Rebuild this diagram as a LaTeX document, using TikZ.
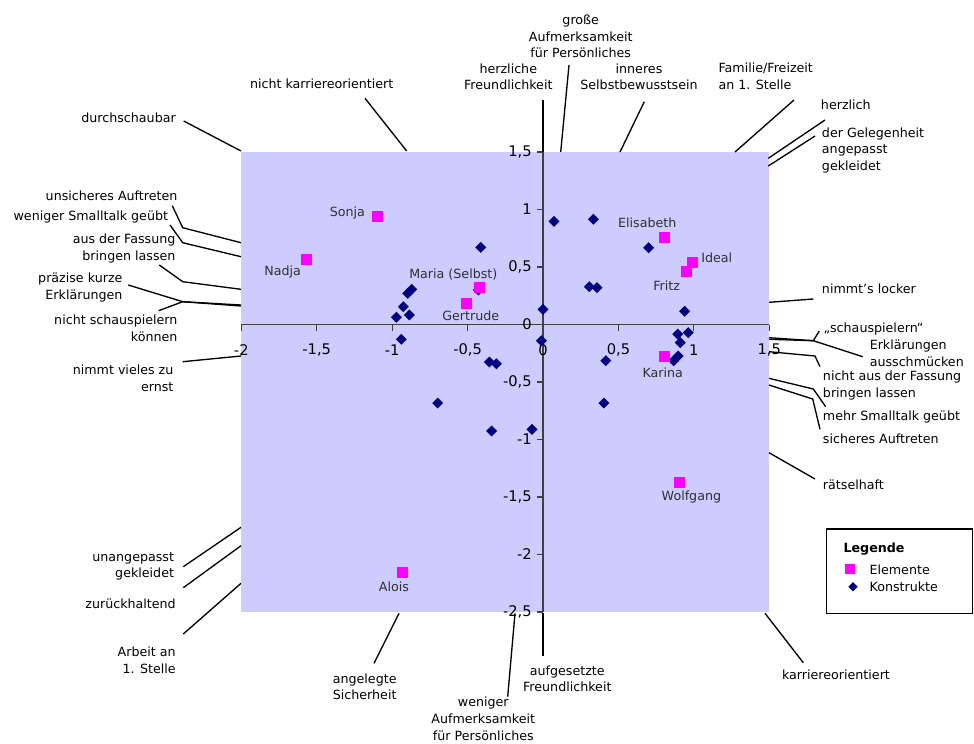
\documentclass[tikz,border=0pt]{standalone}
\usepackage{fontspec}
\setmainfont{DejaVu Sans}
\usetikzlibrary{shapes.geometric}

\definecolor{plotbg}{HTML}{CCCCFF}
\definecolor{elemcol}{HTML}{FF00FF}
\definecolor{konstcol}{HTML}{000080}
\definecolor{axiscol}{HTML}{404040}
\definecolor{ptlabel}{HTML}{303030}

\begin{document}
\begin{tikzpicture}[x=0.75pt,y=-0.75pt,
  lbl/.style={font=\fontsize{9.5}{12.5}\selectfont, inner sep=0pt, text=black},
  ptlbl/.style={font=\fontsize{9.5}{12.5}\selectfont, inner sep=0pt, text=ptlabel},
  ticklbl/.style={font=\fontsize{11}{13}\selectfont, inner sep=0pt, text=black},
  conn/.style={draw=black, line width=1pt},
  axisline/.style={draw=axiscol, line width=0.8pt},
  elem/.style={rectangle, fill=elemcol, inner sep=0pt, minimum size=8.25pt},
  konst/.style={diamond, fill=konstcol, inner sep=0pt, minimum width=8.4pt, minimum height=8.4pt}
]
\useasboundingbox (0,0) rectangle (974,743);
\fill[white] (0,0) rectangle (974,743);

% plot area
\fill[plotbg] (241,152) rectangle (769,612);

% data coordinates: origin at the axis crossing
\begin{scope}[shift={(543,324.5)}, x=113.145pt, y=86.25pt]
  \draw[axisline] (-2,0) -- (1.5,0);
  \draw[axisline] (0,-2.5) -- (0,1.5);
  \foreach \t/\s [count=\i] in {-2/-2, -1.5/{-1,5}, -1/-1, -0.5/{-0,5}, 0/0, 0.5/{0,5}, 1/1, 1.5/{1,5}} {
    \draw[axisline] (\t,0) -- ++(0pt,-4.5pt);
    \node[ticklbl, yshift=-19.1pt] (xt\i) at (\t,0) {\s};
  }
  \foreach \t/\s [count=\i] in {-2.5/{-2,5}, -2/-2, -1.5/{-1,5}, -1/-1, -0.5/{-0,5}, 0/0, 0.5/{0,5}, 1/1, 1.5/{1,5}} {
    \draw[axisline] (0,\t) -- ++(-4.5pt,0pt);
    \node[ticklbl, anchor=east, xshift=-8.25pt] (yt\i) at (0,\t) {\s};
  }

  % constructs
  \foreach \p [count=\i] in {
    (-0.413,0.671), (-0.429,0.300), (-0.870,0.306), (-0.897,0.271), (-0.926,0.155),
    (-0.886,0.083), (-0.972,0.063), (-0.939,-0.129), (-0.356,-0.326), (-0.309,-0.341),
    (0.073,0.897), (0.334,0.915), (0.700,0.668), (0.307,0.329), (0.358,0.320),
    (0.000,0.132), (0.939,0.115), (-0.011,-0.141), (0.893,-0.083), (0.963,-0.071),
    (0.910,-0.158), (0.895,-0.274), (0.866,-0.315), (0.416,-0.315),
    (-0.698,-0.683), (-0.340,-0.926), (-0.073,-0.911), (0.404,-0.683)}
    \node[konst] (k\i) at \p {};

  % elements
  \node[elem] (sonja) at (-1.096,0.935) {};
  \node[elem] (nadja) at (-1.571,0.567) {};
  \node[elem] (maria) at (-0.418,0.326) {};
  \node[elem] (gertrude) at (-0.506,0.187) {};
  \node[elem] (elisabeth) at (0.804,0.755) {};
  \node[elem] (ideal) at (0.992,0.537) {};
  \node[elem] (fritz) at (0.948,0.457) {};
  \node[elem] (karina) at (0.804,-0.274) {};
  \node[elem] (wolfgang) at (0.904,-1.372) {};
  \node[elem] (alois) at (-0.933,-2.155) {};
\end{scope}

% element labels
\node[ptlbl] (l-sonja) at (347.3,213.3) {Sonja};
\node[ptlbl] (l-nadja) at (282.7,271.7) {Nadja};
\node[ptlbl] (l-maria) at (453.3,275) {Maria (Selbst)};
\node[ptlbl] (l-gertrude) at (470.7,316) {Gertrude};
\node[ptlbl] (l-elisabeth) at (647.3,222.7) {Elisabeth};
\node[ptlbl] (l-ideal) at (716.7,257.7) {Ideal};
\node[ptlbl] (l-fritz) at (666.7,285.7) {Fritz};
\node[ptlbl] (l-karina) at (662.7,372.7) {Karina};
\node[ptlbl] (l-wolfgang) at (691.4,496.7) {Wolfgang};
\node[ptlbl] (l-alois) at (393.9,586.7) {Alois};

% ---- construct poles, left side
\node[lbl, anchor=east] (c1) at (176,117.3) {durchschaubar};
\path (183.7,121) coordinate (c1a) (241,151) coordinate (c1b);
\draw[conn] (c1a) -- (c1b);

\node[lbl, anchor=east] (c2) at (177.7,196) {unsicheres Auftreten};
\path (172.3,205.7) coordinate (c2a) (182.7,227.7) coordinate (c2m) (241,242.7) coordinate (c2b);
\draw[conn] (c2a) -- (c2m) -- (c2b);

\node[lbl, anchor=east] (c3) at (168.3,216.7) {weniger Smalltalk geübt};
\path (170,225) coordinate (c3a) (182.7,242.7) coordinate (c3m) (241,256.7) coordinate (c3b);
\draw[conn] (c3a) -- (c3m) -- (c3b);

\node[lbl, anchor=east, align=right] (c4) at (175.7,248.3) {aus der Fassung\\bringen lassen};
\path (159.3,265) coordinate (c4a) (182.7,281.7) coordinate (c4m) (241,289.3) coordinate (c4b);
\draw[conn] (c4a) -- (c4m) -- (c4b);

\node[lbl, anchor=east, align=right] (c5) at (122.7,287.7) {präzise kurze\\Erklärungen};
\path (128.3,285) coordinate (c5a) (182.7,301.7) coordinate (c5m) (241,305) coordinate (c5b);
\draw[conn] (c5a) -- (c5m) -- (c5b);

\node[lbl, anchor=east, align=right] (c6) at (177.7,328.3) {nicht schauspielern\\können};
\path (158.7,310.7) coordinate (c6a) (241,306) coordinate (c6b);
\draw[conn] (c6a) -- (c5m) -- (c6b);

\node[lbl, anchor=east, align=right] (c7) at (173.7,378.3) {nimmt vieles zu\\ernst};
\path (182.7,361.7) coordinate (c7a) (241,356) coordinate (c7b);
\draw[conn] (c7a) -- (c7b);

\node[lbl, anchor=east, align=right] (c8) at (174.3,566.3) {unangepasst\\gekleidet};
\path (183.3,566.7) coordinate (c8a) (241,527.3) coordinate (c8b);
\draw[conn] (c8a) -- (c8b);

\node[lbl, anchor=east] (c9) at (176,603.3) {zurückhaltend};
\path (183.3,587.7) coordinate (c9a) (241,545.7) coordinate (c9b);
\draw[conn] (c9a) -- (c9b);

\node[lbl, anchor=east, align=right] (c10) at (176,660.3) {Arbeit an\\1. Stelle};
\path (183.3,634) coordinate (c10a) (241,583.3) coordinate (c10b);
\draw[conn] (c10a) -- (c10b);

% ---- top
\node[lbl] (c11) at (321.7,83.3) {nicht karriereorientiert};
\path (365,98.3) coordinate (c11a) (406.7,151) coordinate (c11b);
\draw[conn] (c11a) -- (c11b);

\node[lbl, align=center] (c12) at (508.3,76.7) {herzliche\\Freundlichkeit};
\path (543,100) coordinate (c12a) (543,152) coordinate (c12b);
\draw[conn] (c12a) -- (c12b);

\node[lbl, align=center] (c13) at (580.7,36.3) {große\\Aufmerksamkeit\\für Persönliches};
\path (569,65) coordinate (c13a) (560.7,152) coordinate (c13b);
\draw[conn] (c13a) -- (c13b);

\node[lbl, align=center] (c14) at (639,76.7) {inneres\\Selbstbewusstsein};
\path (644.3,101.7) coordinate (c14a) (620,152) coordinate (c14b);
\draw[conn] (c14a) -- (c14b);

\node[lbl, anchor=west, align=left] (c15) at (718.3,76.3) {Familie/Freizeit\\an 1. Stelle};
\path (794,100) coordinate (c15a) (735,152) coordinate (c15b);
\draw[conn] (c15a) -- (c15b);

\node[lbl, anchor=west] (c16) at (820.7,105) {herzlich};
\path (825,120) coordinate (c16a) (768.3,158.3) coordinate (c16b);
\draw[conn] (c16a) -- (c16b);

\node[lbl, anchor=west, align=left] (c17) at (821.7,150.3) {der Gelegenheit\\angepasst\\gekleidet};
\path (815,136) coordinate (c17a) (768.3,166) coordinate (c17b);
\draw[conn] (c17a) -- (c17b);

% ---- right side
\node[lbl, anchor=west] (c18) at (821.7,288.3) {nimmt’s locker};
\path (813.3,299) coordinate (c18a) (769,302.3) coordinate (c18b);
\draw[conn] (c18a) -- (c18b);

\node[lbl, anchor=west] (c19) at (823.3,329.3) {„schauspielern“};
\path (819.3,331) coordinate (c19a) (813.3,340.7) coordinate (c19m) (769,337.7) coordinate (c19b);
\draw[conn] (c19a) -- (c19m) -- (c19b);

\node[lbl, anchor=west, align=left] (c20) at (869.5,353.3) {Erklärungen\\ausschmücken};
\path (862.7,356.7) coordinate (c20a) (769,339.3) coordinate (c20b);
\draw[conn] (c20a) -- (c19m) -- (c20b);

\node[lbl, anchor=west, align=left] (c21) at (822.7,385.3) {nicht aus der Fassung\\bringen lassen};
\path (820,366.7) coordinate (c21a) (815,356) coordinate (c21m) (769,351.7) coordinate (c21b);
\draw[conn] (c21a) -- (c21m) -- (c21b);

\node[lbl, anchor=west] (c22) at (822.7,417.3) {mehr Smalltalk geübt};
\path (825.7,406.7) coordinate (c22a) (813.3,389) coordinate (c22m) (769,378.3) coordinate (c22b);
\draw[conn] (c22a) -- (c22m) -- (c22b);

\node[lbl, anchor=west] (c23) at (822.7,438.3) {sicheres Auftreten};
\path (820,429.3) coordinate (c23a) (812.7,399) coordinate (c23m) (769,385) coordinate (c23b);
\draw[conn] (c23a) -- (c23m) -- (c23b);

\node[lbl, anchor=west] (c24) at (822.7,484.3) {rätselhaft};
\path (815,479) coordinate (c24a) (769,452.7) coordinate (c24b);
\draw[conn] (c24a) -- (c24b);

% ---- bottom
\node[lbl] (c25) at (836,675) {karriereorientiert};
\path (803.3,662.7) coordinate (c25a) (765,613.3) coordinate (c25b);
\draw[conn] (c25a) -- (c25b);

\node[lbl, align=left] (c26) at (364.7,686.7) {angelegte\\Sicherheit};
\path (374,663.3) coordinate (c26a) (399,613.3) coordinate (c26b);
\draw[conn] (c26a) -- (c26b);

\node[lbl, align=center] (c27) at (483.3,718.7) {weniger\\Aufmerksamkeit\\für Persönliches};
\path (507.7,696.7) coordinate (c27a) (515,613.3) coordinate (c27b);
\draw[conn] (c27a) -- (c27b);

\node[lbl, align=center] (c28) at (567.3,678.7) {aufgesetzte\\Freundlichkeit};
\path (543,656) coordinate (c28a) (543,613) coordinate (c28b);
\draw[conn] (c28a) -- (c28b);

% ---- legend
\node[draw=black, line width=1pt, fill=white, inner sep=0pt, anchor=north west,
      minimum width=109.5pt, minimum height=63.3pt] (legend) at (826,528.3) {};
\node[lbl, anchor=west, font=\fontsize{9.5}{12.5}\selectfont\bfseries] (leg-title) at (843.3,549.3) {Legende};
\node[elem, minimum size=7.5pt] (leg-elem) at (850,569.3) {};
\node[lbl, anchor=west] (leg-elem-t) at (869.3,569.3) {Elemente};
\node[konst, minimum width=7pt, minimum height=7pt] (leg-konst) at (853,586.7) {};
\node[lbl, anchor=west] (leg-konst-t) at (869.3,586.3) {Konstrukte};
\end{tikzpicture}
\end{document}
